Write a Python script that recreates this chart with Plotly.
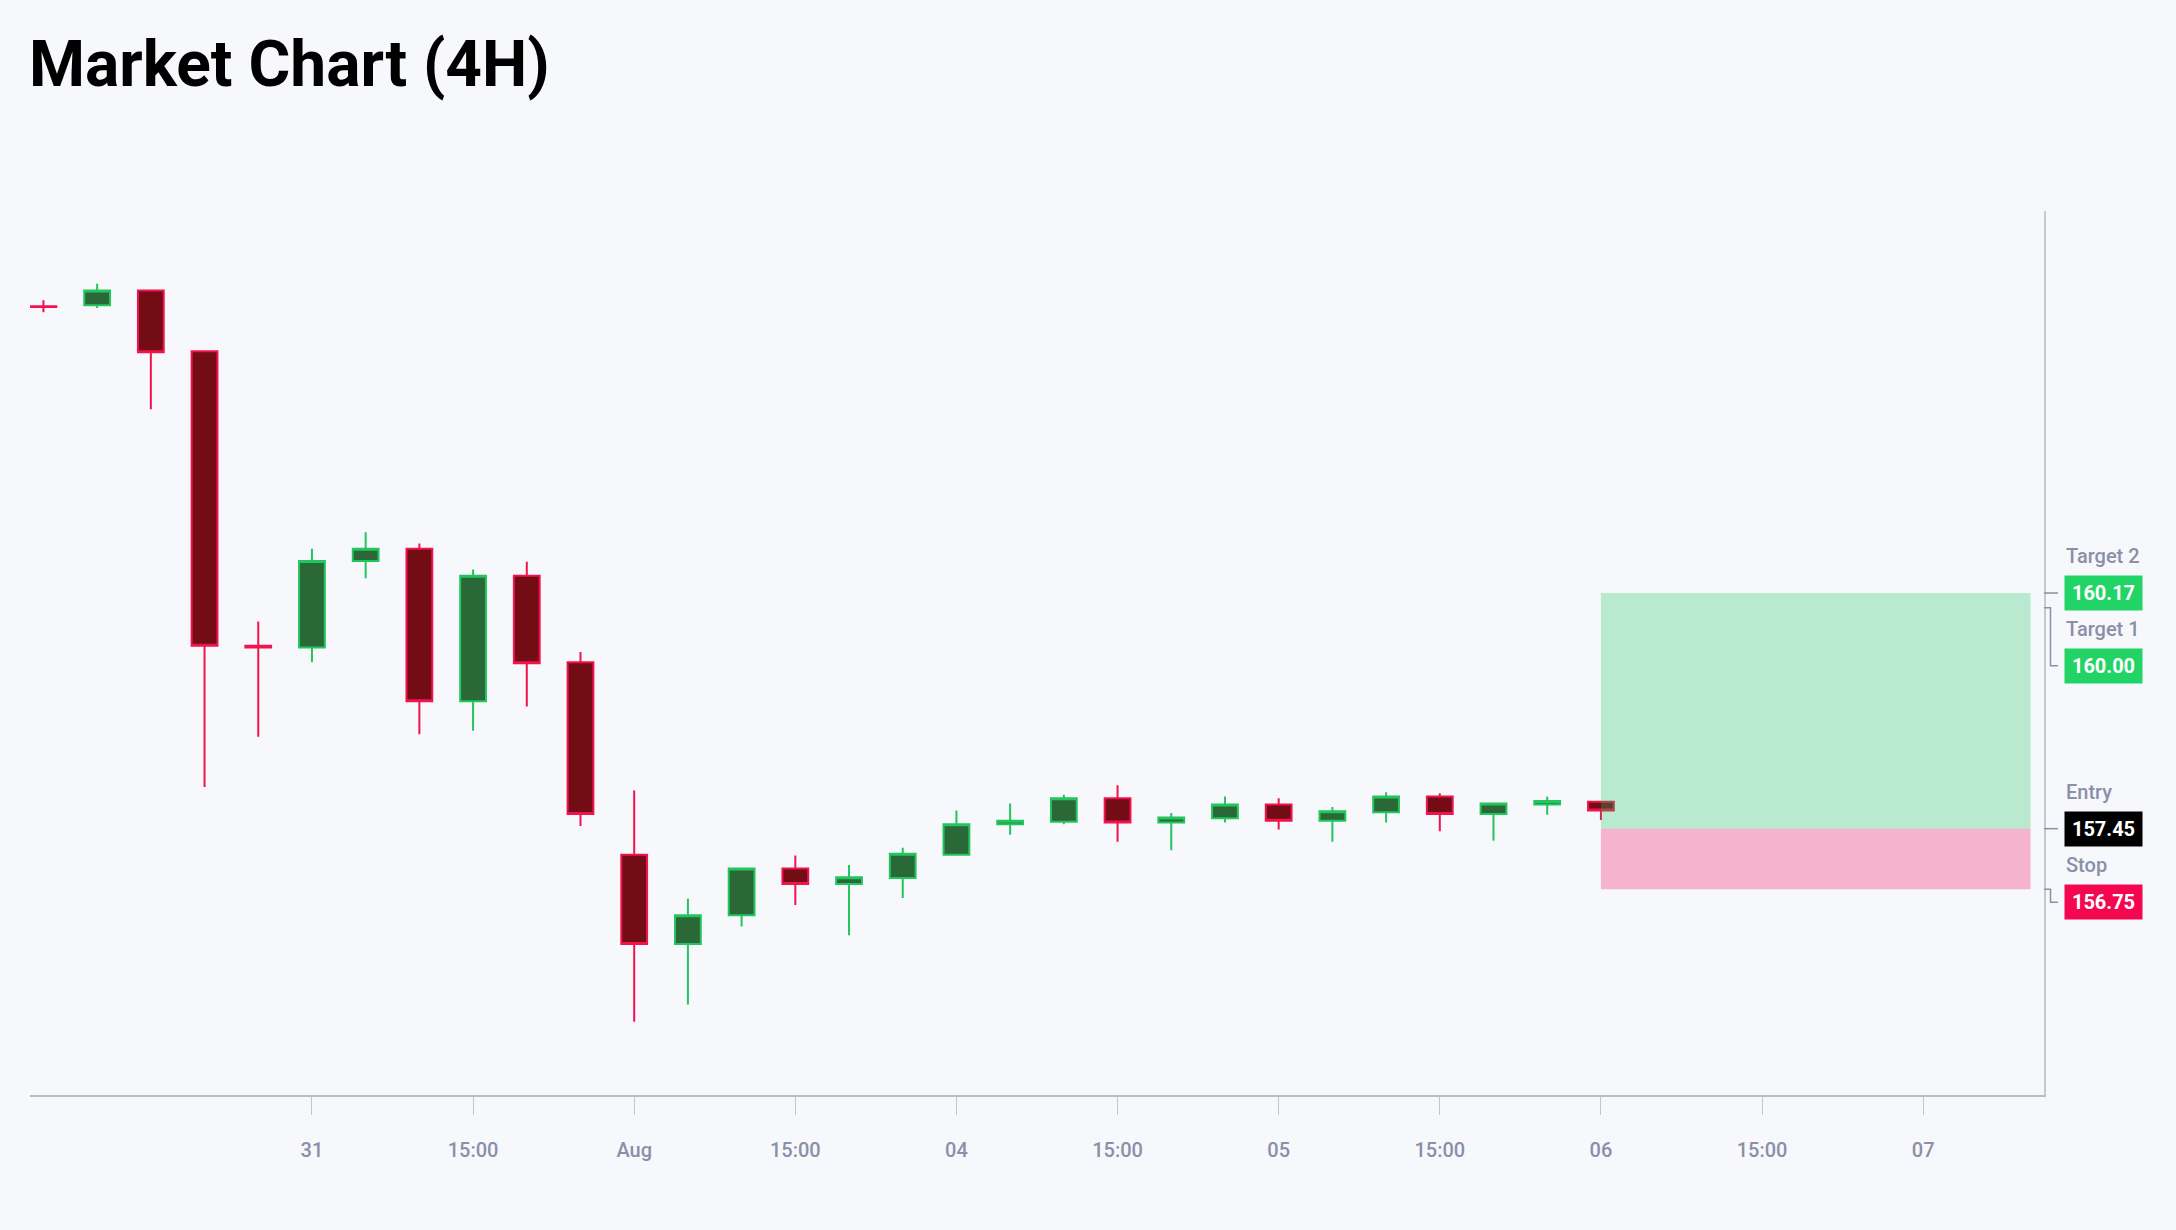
import plotly.graph_objs as go

# 4H bars (weekend removed)
bar_times = [
    "2025-07-30 07:00", "2025-07-30 11:00", "2025-07-30 15:00", "2025-07-30 19:00", "2025-07-30 23:00",
    "2025-07-31 03:00", "2025-07-31 07:00", "2025-07-31 11:00", "2025-07-31 15:00", "2025-07-31 19:00",
    "2025-07-31 23:00", "2025-08-01 03:00", "2025-08-01 07:00", "2025-08-01 11:00", "2025-08-01 15:00",
    "2025-08-01 19:00", "2025-08-01 23:00", "2025-08-04 03:00", "2025-08-04 07:00", "2025-08-04 11:00",
    "2025-08-04 15:00", "2025-08-04 19:00", "2025-08-04 23:00", "2025-08-05 03:00", "2025-08-05 07:00",
    "2025-08-05 11:00", "2025-08-05 15:00", "2025-08-05 19:00", "2025-08-05 23:00", "2025-08-06 03:00",
]
opens = [163.48, 163.49, 163.66, 162.96, 159.56, 159.54, 160.54, 160.68, 158.92, 160.37,
         159.37, 157.15, 156.12, 156.45, 156.99, 156.81, 156.88, 157.15, 157.50, 157.53,
         157.80, 157.52, 157.57, 157.73, 157.54, 157.64, 157.82, 157.62, 157.73, 157.76]
highs = [163.55, 163.74, 163.66, 162.96, 159.84, 160.68, 160.87, 160.74, 160.44, 160.53,
         159.49, 157.89, 156.64, 156.99, 157.14, 157.03, 157.23, 157.66, 157.74, 157.84,
         157.95, 157.63, 157.82, 157.80, 157.70, 157.87, 157.86, 157.74, 157.82, 157.76]
lows = [163.41, 163.46, 162.29, 157.93, 158.51, 159.37, 160.34, 158.54, 158.58, 158.86,
        157.48, 155.22, 155.42, 156.32, 156.57, 156.22, 156.65, 157.14, 157.38, 157.50,
        157.30, 157.20, 157.52, 157.44, 157.30, 157.52, 157.42, 157.31, 157.61, 157.55]
closes = [163.47, 163.66, 162.95, 159.56, 159.54, 160.54, 160.68, 158.92, 160.37, 159.36,
          157.62, 156.12, 156.45, 156.99, 156.81, 156.89, 157.16, 157.50, 157.54, 157.80,
          157.52, 157.58, 157.73, 157.54, 157.65, 157.82, 157.62, 157.74, 157.77, 157.66]

# trade setup
entry = 157.45
stop = 156.75
target1 = 160.00
target2 = 160.17
trade_start = "2025-08-06 03:00"
trade_end = "2025-08-07 11:00"

tick_times = ["2025-07-31 03:00", "2025-07-31 15:00", "2025-08-01 03:00", "2025-08-01 15:00",
              "2025-08-04 03:00", "2025-08-04 15:00", "2025-08-05 03:00", "2025-08-05 15:00",
              "2025-08-06 03:00", "2025-08-06 15:00", "2025-08-07 03:00"]
tick_labels = ["31", "15:00", "Aug", "15:00", "04", "15:00", "05", "15:00", "06", "15:00", "07"]

BG = "#F7F8FC"
GREY = "#8B8FA8"
UP_LINE, UP_FILL = "#22C55E", "#2A6838"
DN_LINE, DN_FILL = "#F0134D", "#730C14"


def create_data():
    """candles"""
    return [go.Candlestick(
        x=bar_times, open=opens, high=highs, low=lows, close=closes,
        increasing=dict(line=dict(color=UP_LINE, width=2), fillcolor=UP_FILL),
        decreasing=dict(line=dict(color=DN_LINE, width=2), fillcolor=DN_FILL),
        whiskerwidth=0, showlegend=False, hoverinfo="skip",
    )]


def level_marks():
    """position box, price tags and the little connectors on the right axis"""
    shapes = [
        dict(type="rect", xref="x", yref="y", x0=trade_start, x1=trade_end, y0=entry, y1=target2,
             fillcolor="rgba(34,197,94,0.29)", line=dict(width=0), layer="above"),
        dict(type="rect", xref="x", yref="y", x0=trade_start, x1=trade_end, y0=stop, y1=entry,
             fillcolor="rgba(245,0,87,0.28)", line=dict(width=0), layer="above"),
    ]
    annotations = []
    tags = [
        ("Target 2", target2, "#22D466", 0),
        ("Target 1", target1, "#22D466", -58),
        ("Entry", entry, "#000000", 0),
        ("Stop", stop, "#F5074F", -13),
    ]
    for name, level, color, shift in tags:
        if shift == 0:
            path = "M0,0 H14"
        else:
            path = "M0,0 H6.5 V%d H14" % shift
        shapes.append(dict(type="path", xref="paper", yref="y", xsizemode="pixel", ysizemode="pixel",
                           xanchor=1, yanchor=level, path=path,
                           line=dict(color=GREY, width=1.5)))
        annotations.append(dict(xref="paper", yref="y", x=1, y=level, xshift=20, yshift=shift,
                                xanchor="left", yanchor="middle", text="<b>%.2f</b>" % level,
                                showarrow=False, bgcolor=color, width=77, height=34, borderpad=0,
                                font=dict(family="Roboto", size=20, color="white")))
        annotations.append(dict(xref="paper", yref="y", x=1, y=level, xshift=20, yshift=shift + 37,
                                xanchor="left", yanchor="middle", text=name, showarrow=False,
                                font=dict(family="Roboto", size=20, color=GREY, weight=500)))
    return shapes, annotations


def create_layout():
    shapes, annotations = level_marks()
    layout = go.Layout(
        width=2176, height=1230,
        paper_bgcolor=BG, plot_bgcolor=BG,
        font=dict(family="Roboto", color=GREY),
        title=dict(text="<b>Market Chart (4H)</b>", x=29 / 2176, xanchor="left", xref="container",
                   y=1 - 64 / 1230, yanchor="middle", yref="container",
                   font=dict(family="Roboto", size=64, color="#000000")),
        margin=dict(l=30, r=132, t=211, b=135, autoexpand=False),
        xaxis=dict(
            type="date", range=["2025-07-30 06:00", "2025-08-07 12:00"],
            # Sat 01:00 -> Mon 01:00, keeps one bar step across the weekend
            rangebreaks=[dict(values=["2025-08-02 01:00"], dvalue=48 * 3600 * 1000)],
            rangeslider=dict(visible=False),
            showgrid=False, zeroline=False, showline=True, linecolor="#BABBC3", linewidth=2,
            ticks="outside", ticklen=18, tickwidth=1, tickcolor="#C3C5CE",
            tickvals=tick_times, ticktext=tick_labels, ticklabelstandoff=18,
            tickfont=dict(family="Roboto", size=20, color=GREY, weight=500),
        ),
        yaxis=dict(
            side="right", range=[154.376, 164.579], showgrid=False, zeroline=False,
            showline=True, linecolor="#C8C9D0", linewidth=2, showticklabels=False, ticks="",
        ),
        shapes=shapes, annotations=annotations,
        boxgap=0.52, boxgroupgap=0, showlegend=False,
    )
    return layout


def main():
    fig = go.Figure(data=create_data(), layout=create_layout())
    fig.write_html("out.html", config={"displayModeBar": False},
                   post_script="document.body.style.margin='0';")


if __name__ == "__main__":
    main()
